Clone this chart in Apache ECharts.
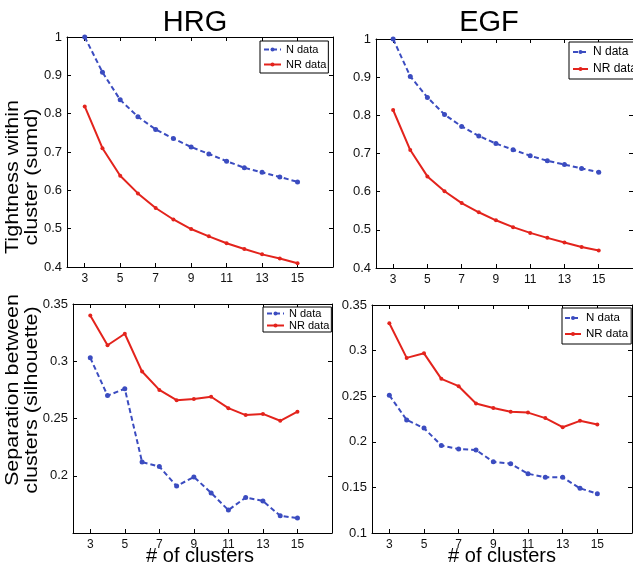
<!DOCTYPE html>
<html><head><meta charset="utf-8">
<script src="https://cdn.jsdelivr.net/npm/echarts@6/dist/echarts.min.js"></script>
<style>html,body{margin:0;padding:0;background:#fff}#c{width:633px;height:571px}</style>
</head><body><div id="c"></div>
<script>
const clusters = [3,4,5,6,7,8,9,10,11,12,13,14,15];
const xTicks = [3,5,7,9,11,13,15];
const hrgSumdN  = [1.000,0.908,0.836,0.792,0.759,0.735,0.713,0.695,0.676,0.659,0.647,0.635,0.622];
const hrgSumdNR = [0.819,0.710,0.638,0.592,0.554,0.524,0.499,0.480,0.462,0.447,0.433,0.422,0.410];
const egfSumdN  = [1.000,0.902,0.847,0.802,0.771,0.746,0.726,0.710,0.694,0.681,0.671,0.661,0.651];
const egfSumdNR = [0.814,0.709,0.640,0.601,0.570,0.546,0.525,0.507,0.492,0.479,0.467,0.455,0.446];
const hrgSilN   = [0.303,0.270,0.276,0.212,0.208,0.191,0.199,0.185,0.170,0.181,0.178,0.165,0.163];
const hrgSilNR  = [0.340,0.314,0.324,0.291,0.275,0.266,0.267,0.269,0.259,0.253,0.254,0.248,0.256];
const egfSilN   = [0.251,0.224,0.215,0.196,0.192,0.191,0.178,0.176,0.165,0.161,0.161,0.149,0.143];
const egfSilNR  = [0.330,0.292,0.297,0.269,0.261,0.242,0.237,0.233,0.232,0.226,0.216,0.223,0.219];
const panelTitles = ['HRG','EGF'];
const rowNames = [['Tightness within','cluster (sumd)'],['Separation between','clusters (silhouette)']];
const xName = '# of clusters';
const seriesNames = ['N data','NR data'];

const FONT = '"Liberation Sans", Arial, sans-serif';
const BLUE = '#3b4cc0', RED = '#e3231c';
const grids = [
  {left:67, top:37, width:266, height:230},
  {left:376, top:39, width:265, height:229},
  {left:73, top:304, width:259, height:229},
  {left:372, top:305, width:260, height:228}
];
const yRanges = [
  {min:0.4,max:1,interval:0.1,showMin:true},
  {min:0.4,max:1,interval:0.1,showMin:true},
  {min:0.15,max:0.35,interval:0.05,showMin:false},
  {min:0.1,max:0.35,interval:0.05,showMin:true}
];
const panelData = [[hrgSumdN,hrgSumdNR],[egfSumdN,egfSumdNR],[hrgSilN,hrgSilNR],[egfSilN,egfSilNR]];
const legendCfg = [
  {left:260, top:41, padding:[3,2,3,3], itemWidth:17, itemGap:4, fs:11},
  {left:569, top:42, padding:[4,3,4,3], itemWidth:15, itemGap:5, fs:12},
  {left:263, top:307, padding:[1,2,1,3], itemWidth:17, itemGap:1, fs:11},
  {left:562, top:308, padding:[4,3,4,2], itemWidth:16, itemGap:4, fs:11.5}
];

const xAxis=[], yAxis=[], series=[], legend=[];
grids.forEach((g,i)=>{
  const tickIn = {show:true, inside:true, length:4, lineStyle:{color:'#000'}};
  xAxis.push({type:'value', gridIndex:i, position:'bottom', min:2, max:17,
    axisLine:{show:true,onZero:false,lineStyle:{color:'#000',width:1}},
    axisTick:Object.assign({customValues:xTicks},tickIn),
    axisLabel:{customValues:xTicks, color:'#111', fontSize:12, fontFamily:FONT, margin:6},
    splitLine:{show:false}});
  xAxis.push({type:'value', gridIndex:i, position:'top', min:2, max:17,
    axisLine:{show:true,onZero:false,lineStyle:{color:'#000',width:1}},
    axisTick:Object.assign({customValues:xTicks},tickIn),
    axisLabel:{show:false}, splitLine:{show:false}});
  const r = yRanges[i];
  yAxis.push({type:'value', gridIndex:i, position:'left', min:r.min, max:r.max, interval:r.interval,
    axisLine:{show:true,onZero:false,lineStyle:{color:'#000',width:1}},
    axisTick:tickIn,
    axisLabel:{color:'#111', fontSize:13, fontFamily:FONT, margin:5, showMinLabel:r.showMin},
    splitLine:{show:false}});
  yAxis.push({type:'value', gridIndex:i, position:'right', min:r.min, max:r.max, interval:r.interval,
    axisLine:{show:true,onZero:false,lineStyle:{color:'#000',width:1}},
    axisTick:tickIn, axisLabel:{show:false}, splitLine:{show:false}});
  const [dn, dnr] = panelData[i];
  series.push({name:seriesNames[0], type:'line', xAxisIndex:2*i, yAxisIndex:2*i,
    data:clusters.map((c,k)=>[c,dn[k]]), symbol:'circle', symbolSize:5, showAllSymbol:true,
    color:BLUE, lineStyle:{color:BLUE,width:2,type:[5,3]}, itemStyle:{color:BLUE}, animation:false});
  series.push({name:seriesNames[1], type:'line', xAxisIndex:2*i, yAxisIndex:2*i,
    data:clusters.map((c,k)=>[c,dnr[k]]), symbol:'circle', symbolSize:4, showAllSymbol:true,
    color:RED, lineStyle:{color:RED,width:2,type:'solid'}, itemStyle:{color:RED}, animation:false});
  const L = legendCfg[i];
  legend.push({data:seriesNames, orient:'vertical', left:L.left, top:L.top, padding:L.padding,
    itemWidth:L.itemWidth, itemHeight:5, itemGap:L.itemGap,
    borderColor:'#000', borderWidth:1, backgroundColor:'#fff', selectedMode:false,
    textStyle:{fontSize:L.fs, lineHeight:L.fs, color:'#000', fontFamily:FONT}});
});

function yName(text, x, y) {
  return {type:'text', x:x, y:y, rotation:Math.PI/2, scaleX:1.2, scaleY:1,
    style:{text:text, font:'18px '+FONT, fill:'#000', textAlign:'center', textVerticalAlign:'middle'}};
}
const graphic = [
  {type:'text', x:195, y:8, style:{text:panelTitles[0], font:'29px '+FONT, fill:'#000', textAlign:'center', textVerticalAlign:'top'}},
  {type:'text', x:489, y:8, style:{text:panelTitles[1], font:'29px '+FONT, fill:'#000', textAlign:'center', textVerticalAlign:'top'}},
  {type:'text', x:200, y:546, style:{text:xName, font:'20px '+FONT, fill:'#000', textAlign:'center', textVerticalAlign:'top'}},
  {type:'text', x:502, y:546, style:{text:xName, font:'20px '+FONT, fill:'#000', textAlign:'center', textVerticalAlign:'top'}},
  yName(rowNames[0][0], 13, 177),
  yName(rowNames[0][1], 32, 177),
  yName(rowNames[1][0], 13, 390),
  yName(rowNames[1][1], 32, 400)
];

const chart = echarts.init(document.getElementById('c'), null, {renderer:'canvas'});
chart.setOption({animation:false, backgroundColor:'#fff', grid:grids, xAxis, yAxis, series, legend, graphic});
</script></body></html>
